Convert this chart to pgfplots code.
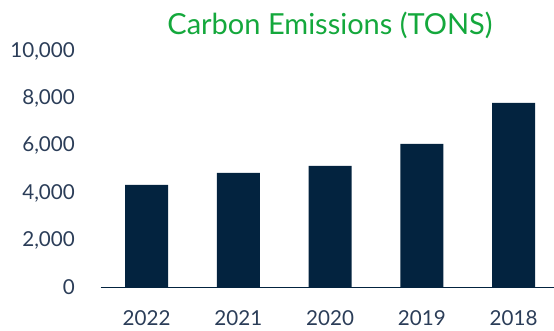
\documentclass[border=0pt]{standalone}
\usepackage{pgfplots}
\pgfplotsset{compat=1.18}
\usepackage{fontspec}
\setmainfont{Lato}
\definecolor{navy}{HTML}{03233F}
\definecolor{lab}{HTML}{2B3D58}
\definecolor{grn}{HTML}{14A83C}
\begin{document}
\begin{tikzpicture}
\useasboundingbox (0bp,0bp) rectangle (554bp,331bp);
\begin{axis}[
  at={(100.7bp,43.7bp)}, anchor=south west,
  width=453.3bp, height=235.8bp, scale only axis,
  xmin=-0.5, xmax=4.44, ymin=0, ymax=10000,
  axis x line=bottom, axis y line=left,
  axis line style={-, draw=navy, line width=1.1bp},
  y axis line style={draw=none},
  major tick length=0,
  xtick={0,1,2,3,4}, xticklabels={2022,2021,2020,2019,2018},
  ytick={0,2000,4000,6000,8000,10000},
  /pgf/number format/assume math mode=true,
  /pgf/number format/1000 sep={,},
  scaled y ticks=false,
  yticklabel style={anchor=east, inner sep=0pt, xshift=-25.7bp, text=lab, font=\fontsize{20.6bp}{24bp}\selectfont},
  xticklabel style={anchor=center, inner sep=0pt, yshift=-31bp, text=lab, font=\fontsize{20.6bp}{24bp}\selectfont},
  clip=false,
]
\addplot[ybar, bar width=43bp, fill=navy, draw=none] coordinates {
  (0,4340) (1,4850) (2,5150) (3,6080) (4,7820)
};
\end{axis}
\node[text=grn, font=\fontsize{29bp}{33bp}\selectfont, inner sep=0pt] at (330bp,306bp) {Carbon Emissions (TONS)};
\end{tikzpicture}
\end{document}
